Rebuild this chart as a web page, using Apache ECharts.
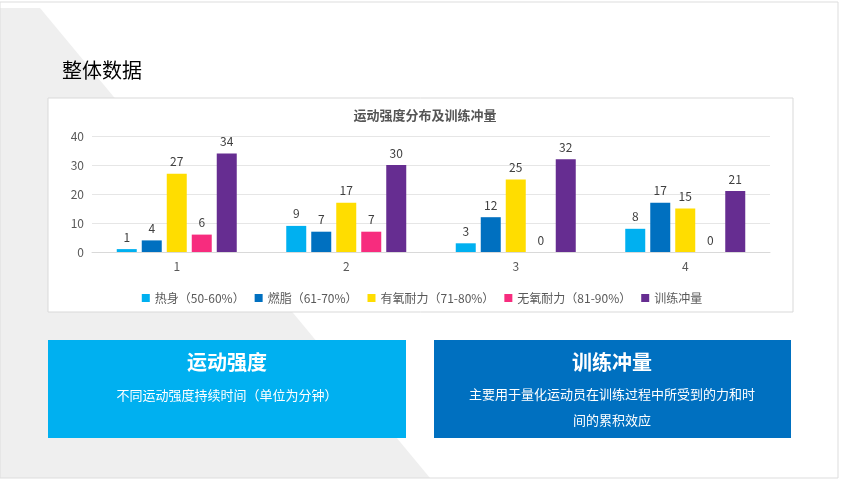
<!DOCTYPE html>
<html><head><meta charset="utf-8">
<script src="https://cdn.jsdelivr.net/npm/echarts@6/dist/echarts.min.js"></script>
<style>body{margin:0}#main{width:844px;height:480px}</style>
</head><body><div id="main"></div>
<script>
var categories = ['1', '2', '3', '4'];
var seriesNames = ['热身（50-60%）', '燃脂（61-70%）', '有氧耐力（71-80%）', '无氧耐力（81-90%）', '训练冲量'];
var warmup = [1, 9, 3, 8];
var fatBurn = [4, 7, 12, 17];
var aerobic = [27, 17, 25, 15];
var anaerobic = [6, 7, 0, 0];
var load = [34, 30, 32, 21];
var colors = ['#00B0F0', '#0070C0', '#FFDD00', '#F72C7E', '#662D91'];

var myChart = echarts.init(document.getElementById('main'));
var values = [warmup, fatBurn, aerobic, anaerobic, load];
var font = '"Noto Sans CJK SC", sans-serif';

var option = {
  animation: false,
  textStyle: {fontFamily: font},
  title: {
    text: '运动强度分布及训练冲量',
    left: 420, top: 104, textAlign: 'center',
    textStyle: {fontSize: 13, fontWeight: 'bold', color: '#555', fontFamily: font}
  },
  graphic: [
    {type: 'rect', shape: {x: 0, y: 0, width: 844, height: 480}, style: {fill: '#fff'}, z: -10},
    {type: 'polygon', shape: {points: [[0, 8], [40, 8], [430, 478], [0, 478]]}, style: {fill: '#efefef'}, z: -9},
    {type: 'rect', shape: {x: 0, y: 2, width: 838, height: 476}, style: {fill: 'none', stroke: '#ddd'}, z: -8},
    {type: 'text', left: 62, top: 60, style: {text: '整体数据', fontSize: 20, fill: '#000', fontFamily: font}},
    {type: 'rect', shape: {x: 48, y: 98, width: 745, height: 214}, style: {fill: '#fff', stroke: '#d9d9d9'}, z: -5},
    {type: 'rect', shape: {x: 48, y: 340, width: 358, height: 98}, style: {fill: '#00B0F0'}},
    {type: 'rect', shape: {x: 434, y: 340, width: 357, height: 98}, style: {fill: '#0070C0'}},
    {type: 'text', x: 227, y: 362, style: {text: '运动强度', align: 'center', verticalAlign: 'middle', fontSize: 20, fontWeight: 'bold', fill: '#fff', fontFamily: font}},
    {type: 'text', x: 227, y: 395, style: {text: '不同运动强度持续时间（单位为分钟）', align: 'center', verticalAlign: 'middle', fontSize: 13, fill: '#fff', fontFamily: font}},
    {type: 'text', x: 612, y: 362, style: {text: '训练冲量', align: 'center', verticalAlign: 'middle', fontSize: 20, fontWeight: 'bold', fill: '#fff', fontFamily: font}},
    {type: 'text', x: 612, y: 407, style: {text: '主要用于量化运动员在训练过程中所受到的力和时\n间的累积效应', align: 'center', verticalAlign: 'middle', fontSize: 13, lineHeight: 26, fill: '#fff', fontFamily: font}}
  ],
  legend: {
    data: seriesNames, top: 287, left: 'center',
    itemWidth: 8, itemHeight: 8, itemGap: 10, icon: 'rect',
    textStyle: {fontSize: 12, color: '#595959', fontFamily: font}
  },
  grid: {left: 92, right: 74, top: 136, bottom: 228},
  xAxis: {
    type: 'category', data: categories,
    axisLine: {lineStyle: {color: '#d9d9d9'}}, axisTick: {show: false},
    axisLabel: {color: '#595959', fontSize: 12}
  },
  yAxis: {
    type: 'value', min: 0, max: 40, interval: 10,
    axisLabel: {color: '#595959', fontSize: 12},
    splitLine: {lineStyle: {color: '#e6e6e6'}}
  },
  series: seriesNames.map(function (n, i) {
    return {
      name: n, type: 'bar', data: values[i], barWidth: 20, barGap: '25%',
      itemStyle: {color: colors[i]},
      label: {show: true, position: 'top', color: '#404040', fontSize: 12, distance: 6}
    };
  })
};
myChart.setOption(option);
</script></body></html>
